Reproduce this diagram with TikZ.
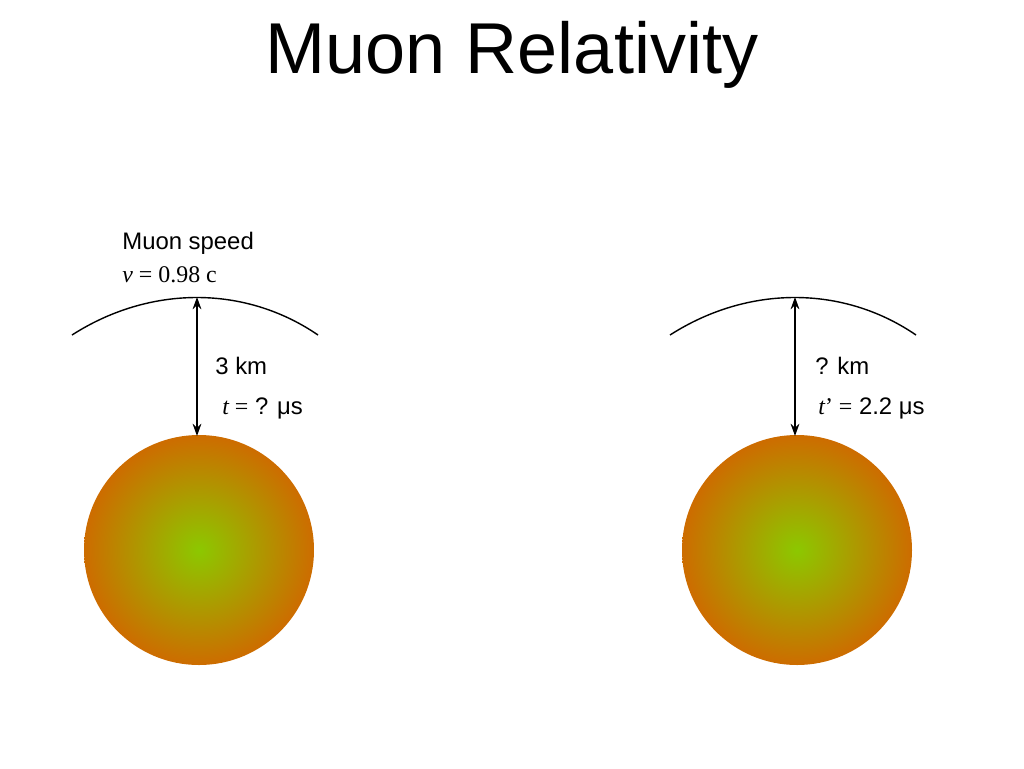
\documentclass[tikz,border=0pt]{standalone}
\usepackage{fontspec}
\setmainfont{Liberation Sans}
\newfontfamily\tms{Liberation Serif}
\usetikzlibrary{arrows.meta}
\definecolor{orng}{RGB}{205,108,0}
\definecolor{grn}{RGB}{140,200,0}
\tikzset{lbl/.style={anchor=west,font=\fontsize{13.6}{16}\selectfont,inner sep=0pt},
 ball/.style={draw=none,shade,inner color=grn,outer color=orng},
 dist/.style={{Stealth[length=7pt,width=5pt]}-{Stealth[length=7pt,width=5pt]},line width=0.9pt}}
\begin{document}
\begin{tikzpicture}[x=0.02cm,y=-0.02cm]
\useasboundingbox (0,0) rectangle (1024,768);
\node[font=\fontsize{41}{48}\selectfont] (title) at (512,55) {Muon Relativity};
\shade[ball] (199,550) circle (115);
\shade[ball] (797,550) circle (115);
\draw[line width=0.8pt] (72,335) .. controls (150,285) and (245,285) .. (318,335);
\draw[line width=0.8pt] (670,335) .. controls (748,285) and (843,285) .. (916,335);
\coordinate (a1) at (197,297); \coordinate (b1) at (197,436);
\coordinate (a2) at (795,297); \coordinate (b2) at (795,436);
\draw[dist] (a1) -- (b1);
\draw[dist] (a2) -- (b2);
\node[lbl] (ms) at (122,243) {Muon speed};
\node[lbl] (vv) at (122,275) {\tms\itshape v\upshape\ = 0.98 c};
\node[lbl] (d1) at (215,366) {3 km};
\node[lbl] (t1) at (222,408) {{\tms\itshape t\upshape\ =} ? μs};
\node[lbl] (d2) at (815,366) {? km};
\node[lbl] (t2) at (818,408) {{\tms\itshape t\upshape’ =} 2.2 μs};
\end{tikzpicture}
\end{document}
